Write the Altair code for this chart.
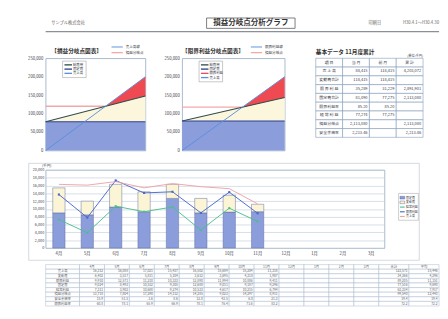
import altair as alt
import pandas as pd

FONT = "Noto Sans CJK JP"
TXT = "#3c3c46"
FRAME = "#8fa5bd"

# ---------------- header ----------------
company = "サンプル株式会社"
main_title = "損益分岐点分析グラフ"
print_label = "印刷日"
period = "H30.4.1～H30.4.30"

# ---------------- break-even charts ----------------
be_x = [0, 200000]
be_ticks = [0, 50000, 100000, 150000, 200000, 250000]

be1_title = "【損益分岐点図表】"
be1_sales = [0, 200000]
be1_cost = [78000, 148000]
be1_fixed = [78000, 78000]
be1_point = 120000
be1_inner = ["総費用", "固定費", "売上高"]
be1_outer = ["売上高線", "損益分岐点"]

be2_title = "【限界利益分岐点図表】"
be2_sales = [0, 200000]
be2_cost = [80000, 144000]
be2_fixed = [80000, 80000]
be2_point = 117500
be2_inner = ["総費用", "固定費", "限界利益", "売上高"]
be2_outer = ["限界利益線", "損益分岐点"]

# ---------------- basic data table ----------------
tbl_title = "基本データ 11月度累計"
tbl_unit = "(単位:千円)"
tbl_cols = ["項 目", "当 月", "前 月", "累 計"]
tbl_rows = ["売 上 高", "変動費合計", "限 界 利 益", "固定費合計",
            "限界利益率", "経 常 利 益", "損益分岐点", "安全余裕率"]
tbl_cur = ["88,415", "118,415", "35,289", "81,090", "85.20", "77,274", "2,113,080", "2,213.46"]
tbl_prev = ["118,415", "118,415", "31,229", "77,275", "85.20", "77,275", "", ""]
tbl_cum = ["4,203,072", "", "2,891,901", "2,113,080", "", "", "2,113,080", "2,213.46"]

# ---------------- monthly chart ----------------
months = ["4月", "5月", "6月", "7月", "8月", "9月", "10月", "11月", "12月", "1月", "2月", "3月"]
done_months = ["4月", "5月", "6月", "7月", "8月", "9月", "10月", "11月"]
fixed_cost = [9000, 8500, 10500, 9300, 12700, 9000, 9200, 9300]
var_cost = [6400, 3500, 5800, 5100, 3600, 3700, 4300, 1900]
sales_line = [16300, 16100, 17000, 15400, 16500, 15700, 15200, 11300]
margin_line = [13700, 7800, 17300, 14100, 14400, 9000, 14300, 8900]
profit_line = [7300, 3900, 10700, 9300, 10500, 4600, 10200, 6800]
bar_ticks = [0, 2000, 4000, 6000, 8000, 10000, 12000, 14000, 16000, 18000, 20000]
bar_unit = "(千円)"
series_names = ["固定費", "変動費", "経常利益", "限界利益", "売上高"]
series_colors = ["#8c9ddb", "#fbf5d6", "#4cbf8d", "#4a68c9", "#eea3a6"]

# ---------------- monthly table ----------------
bt_cols = ["", "4月", "5月", "6月", "7月", "8月", "9月", "10月", "11月",
           "12月", "1月", "2月", "3月", "合計", "平均"]
bt_rows = ["売上高", "変動費", "限界利益", "固定費", "経常利益", "損益分岐点", "安全余裕率", "限界利益率"]
bt_vals = [
    ["16,312", "16,088", "17,021", "15,437", "16,502", "15,689", "15,204", "11,318", "123,571", "15,446"],
    ["6,402", "3,517", "5,811", "5,104", "3,612", "3,695", "4,318", "1,907", "34,366", "4,296"],
    ["9,910", "12,571", "11,210", "10,333", "12,890", "11,994", "10,886", "9,411", "89,205", "11,151"],
    ["9,024", "8,493", "10,512", "9,305", "12,688", "9,011", "9,187", "9,296", "77,516", "9,690"],
    ["7,311", "3,902", "10,688", "9,274", "10,533", "4,617", "10,215", "6,794", "63,334", "7,917"],
    ["13,718", "7,804", "17,290", "14,112", "14,385", "9,023", "14,297", "8,911", "99,540", "12,443"],
    ["15.9", "51.5", "-1.6", "8.6", "12.8", "42.5", "6.0", "21.3", "19.4", "19.4"],
    ["60.8", "78.1", "65.9", "66.9", "78.1", "76.4", "71.6", "83.2", "72.2", "72.2"],
]

# =====================================================================
dummy = pd.DataFrame({"d": [0]})


def txt(x, y, s, size=4.5, align="left", weight="normal", color=TXT):
    return alt.Chart(dummy).mark_text(
        align=align, baseline="middle", fontSize=size, font=FONT,
        fontWeight=weight, color=color
    ).encode(x=alt.value(x), y=alt.value(y), text=alt.value(s))


def hrule(x0, x1, y, color, width=1.0):
    return alt.Chart(dummy).mark_rule(color=color, strokeWidth=width).encode(
        x=alt.value(x0), x2=alt.value(x1), y=alt.value(y))


def box(x0, x1, y0, y1, fill, stroke, width=0.5):
    return alt.Chart(dummy).mark_rect(fill=fill, stroke=stroke, strokeWidth=width).encode(
        x=alt.value(x0), x2=alt.value(x1), y=alt.value(y0), y2=alt.value(y1))


CW = 418  # content width (page x 22 .. 440)

# ---------------- header ----------------
header = alt.layer(
    txt(6, 6, company, 4.5, color="#666"),
    box(171, 265, 1, 12, "white", "#555", 0.8),
    txt(218, 6.7, main_title, 8, align="center", weight="bold", color="#333"),
    txt(343, 6, print_label, 4.5, color="#666"),
    txt(CW, 6, period, 4.5, align="right", color="#666"),
    hrule(0, CW, 15.5, "#8a8f98", 1.3),
).properties(width=CW, height=16)


# ---------------- break-even charts ----------------
def be_chart(title, sales, cost, fixed, point, inner, outer, width, tdx):
    H = 98
    df = pd.DataFrame({"x": be_x, "sales": sales, "cost": cost, "fixed": fixed})
    red = pd.DataFrame({"x": [point, be_x[1]], "top": [point, sales[1]], "bot": [point, cost[1]]})
    pink = pd.DataFrame({"x": [be_x[0], point], "y": [point, point]})
    xs = alt.Scale(domain=[be_x[0], be_x[1]], nice=False)
    ys = alt.Scale(domain=[0, 250000], nice=False)
    yaxis = alt.Axis(values=be_ticks, format=",.0f", labelFontSize=4.5, labelFont=FONT,
                     labelColor=TXT, ticks=False, domain=False, grid=False, labelOverlap=False,
                     labelPadding=3, minExtent=25, maxExtent=25, title=None)

    def X():
        return alt.X("x:Q", scale=xs, axis=None)

    def Y(f):
        return alt.Y(f"{f}:Q", scale=ys, axis=yaxis)

    base = alt.Chart(df)
    layers = [
        base.mark_area(color="#8c9ddb", opacity=1).encode(X(), Y("fixed"), y2=alt.datum(0)),
        base.mark_area(color="#fcf7dc", opacity=1).encode(X(), Y("cost"), y2="fixed:Q"),
        alt.Chart(red).mark_area(color="#ef4a52", opacity=1).encode(X(), Y("top"), y2="bot:Q"),
        alt.Chart(pink).mark_line(color="#f3a8a8", strokeWidth=1.4).encode(X(), Y("y")),
        base.mark_line(color="#2c3f8c", strokeWidth=1.1).encode(X(), Y("fixed")),
        base.mark_line(color="#2f4d4a", strokeWidth=1.1).encode(X(), Y("cost")),
        base.mark_line(color="#5a8fdc", strokeWidth=1.0).encode(X(), Y("sales")),
    ]
    n = len(inner)
    lx, ly = 18, 3
    layers.append(box(lx, lx + 25, ly, ly + 4 + n * 4.5, "white", "#8a8a8a"))
    inner_colors = ["#2f4d4a", "#2c3f8c", "#ef4a52", "#5a8fdc"]
    if n == 3:
        inner_colors = ["#2f4d4a", "#2c3f8c", "#5a8fdc"]
    for i, lab in enumerate(inner):
        yy = ly + 4 + i * 4.5
        layers.append(hrule(lx + 2, lx + 10, yy, inner_colors[i], 1.4))
        layers.append(txt(lx + 11, yy, lab, 3.6))
    layers.append(txt(tdx, -8, title, 6, weight="bold", color="#333"))
    ox = width - 36
    layers.append(hrule(ox, ox + 12, -12, "#5a8fdc", 1.0))
    layers.append(txt(ox + 15, -12, outer[0], 3.8))
    layers.append(hrule(ox, ox + 12, -6, "#f3a8a8", 1.4))
    layers.append(txt(ox + 15, -6, outer[1], 3.8))
    layers.append(hrule(0, 4, -14, "white", 0.1))
    layers.append(hrule(0, 4, H + 3, "white", 0.1))
    return alt.layer(*layers).properties(
        width=width, height=H,
        view=alt.ViewBackground(stroke=FRAME, strokeWidth=0.8),
    )


c1 = be_chart(be1_title, be1_sales, be1_cost, be1_fixed, be1_point, be1_inner, be1_outer, 106, 6)
c2 = be_chart(be2_title, be2_sales, be2_cost, be2_fixed, be2_point, be2_inner, be2_outer, 109, 0)

# ---------------- basic data table ----------------
cells = []
for c in tbl_cols:
    cells.append({"row": 0, "col": c, "text": c, "kind": "c"})
for i, r in enumerate(tbl_rows):
    cells.append({"row": i + 1, "col": tbl_cols[0], "text": r, "kind": "c"})
    for c, vals in zip(tbl_cols[1:], [tbl_cur, tbl_prev, tbl_cum]):
        cells.append({"row": i + 1, "col": c, "text": vals[i], "kind": "n"})
cells = pd.DataFrame(cells)
tx = alt.Scale(domain=tbl_cols, paddingInner=0, paddingOuter=0)
ty = alt.Scale(paddingInner=0, paddingOuter=0)
tb = alt.Chart(cells)
TW = 114
table = alt.layer(
    tb.mark_rect(fill="white", stroke="#7d98b5", strokeWidth=0.6).encode(
        x=alt.X("col:N", scale=tx, axis=None), y=alt.Y("row:O", scale=ty, axis=None)),
    tb.transform_filter("datum.kind == 'c'").mark_text(
        fontSize=4.2, font=FONT, color=TXT, align="center", baseline="middle").encode(
        x=alt.X("col:N", scale=tx, axis=None), y=alt.Y("row:O", scale=ty, axis=None), text="text:N"),
    tb.transform_filter("datum.kind == 'n'").mark_text(
        fontSize=4.2, font=FONT, color=TXT, align="right", baseline="middle", dx=-2).encode(
        x=alt.X("col:N", scale=tx, axis=None, bandPosition=1),
        y=alt.Y("row:O", scale=ty, axis=None), text="text:N"),
    txt(0, -7, tbl_title, 6, weight="bold", color="#333"),
    txt(TW, -2.2, tbl_unit, 3.4, align="right"),
    hrule(0, 4, -14, "white", 0.1),
).properties(width=TW, height=84)

row1 = alt.hconcat(alt.hconcat(c1, c2, spacing=10), table, spacing=29)

# ---------------- monthly bar + line chart ----------------
bars = []
for m, f, v in zip(done_months, fixed_cost, var_cost):
    bars.append({"month": m, "series": series_names[0], "value": f, "ord": 0})
    bars.append({"month": m, "series": series_names[1], "value": v, "ord": 1})
bars = pd.DataFrame(bars)
lines = []
for name, vals in zip(series_names[2:], [profit_line, margin_line, sales_line]):
    for m, v in zip(done_months, vals):
        lines.append({"month": m, "series": name, "value": v})
lines = pd.DataFrame(lines)

BW, BH = 360, 83
bx = alt.X("month:N", sort=months, scale=alt.Scale(domain=months, paddingInner=0.567, paddingOuter=0.25),
           axis=alt.Axis(title=None, labelAngle=0, labelFontSize=4.5, labelFont=FONT, labelColor=TXT,
                         ticks=False, domain=False, labelPadding=3))
byax = alt.Axis(values=bar_ticks, format=",.0f", labelFontSize=4, labelFont=FONT, labelColor=TXT,
                ticks=False, domain=False, gridColor="#b9c8d8", gridWidth=0.6, labelPadding=2,
                labelOverlap=False, minExtent=21, maxExtent=21, title=None)
bys = alt.Scale(domain=[0, 20000], nice=False)
col = alt.Color("series:N", scale=alt.Scale(domain=series_names, range=series_colors), legend=None)

# section frame (outline only)
frame = alt.Chart(dummy).mark_rect(fill="white", fillOpacity=0, stroke="#b4bcc6", strokeWidth=0.6).encode(
    x=alt.value(-18), x2=alt.value(BW + 37), y=alt.value(-7), y2=alt.value(BH + 13))

bar_layer = alt.Chart(bars).mark_bar(stroke="#5d6b9e", strokeWidth=0.5).encode(
    x=bx, y=alt.Y("value:Q", stack="zero", scale=bys, axis=byax), color=col,
    order=alt.Order("ord:Q"))
line_layer = alt.Chart(lines).mark_line(strokeWidth=1).encode(
    x=bx, y=alt.Y("value:Q", scale=bys, axis=byax), color=col, detail="series:N")
pt_layer = alt.Chart(lines).transform_filter(
    alt.FieldOneOfPredicate(field="series", oneOf=series_names[2:4])).mark_point(
    shape="square", size=5, filled=True, opacity=1).encode(
    x=bx, y=alt.Y("value:Q", scale=bys, axis=byax), color=col)

lg = [box(BW + 15, BW + 36, 25, 25 + 3.5 + 5 * 5, "white", "#999")]
for i, (name, colr) in enumerate(zip(series_names, series_colors)):
    yy = 29.5 + i * 5
    if i < 2:
        lg.append(box(BW + 16.5, BW + 21.5, yy - 1.4, yy + 1.4, colr, "#5d6b9e", 0.5))
    else:
        lg.append(hrule(BW + 16.5, BW + 21.5, yy, colr, 1.2))
    lg.append(txt(BW + 23, yy, name, 3.1))
lg.append(txt(-4, -4.4, bar_unit, 3.8))

barchart = alt.layer(frame, bar_layer, line_layer, pt_layer, *lg).properties(
    width=BW, height=BH, view=alt.ViewBackground(stroke=FRAME, strokeWidth=0.8))

# ---------------- monthly table ----------------
widths = [36] + [26.5] * 12 + [32, 32]
edges = [0]
for w in widths:
    edges.append(edges[-1] + w)
bt = []
for j, c in enumerate(bt_cols):
    bt.append({"row": 0, "x0": edges[j], "x1": edges[j + 1], "text": c, "kind": "c"})
for i, r in enumerate(bt_rows):
    bt.append({"row": i + 1, "x0": edges[0], "x1": edges[1], "text": r, "kind": "c"})
    vals = bt_vals[i][:8] + [""] * 4 + bt_vals[i][8:]
    for j, v in enumerate(vals):
        bt.append({"row": i + 1, "x0": edges[j + 1], "x1": edges[j + 2], "text": v, "kind": "n"})
bt = pd.DataFrame(bt)
bt["xm"] = (bt["x0"] + bt["x1"]) / 2
bxs = alt.Scale(domain=[0, edges[-1]], nice=False)
bys2 = alt.Scale(paddingInner=0, paddingOuter=0)
btb = alt.Chart(bt)
btable = alt.layer(
    btb.mark_rect(fill="white", stroke="#a4b6c9", strokeWidth=0.5).encode(
        x=alt.X("x0:Q", scale=bxs, axis=None), x2="x1:Q", y=alt.Y("row:O", scale=bys2, axis=None)),
    btb.transform_filter("datum.kind == 'c'").mark_text(
        fontSize=3.5, font=FONT, color="#666", align="center", baseline="middle").encode(
        x=alt.X("xm:Q", scale=bxs, axis=None), y=alt.Y("row:O", scale=bys2, axis=None), text="text:N"),
    btb.transform_filter("datum.kind == 'n'").mark_text(
        fontSize=3.5, font=FONT, color="#666", align="right", baseline="middle", dx=-1.5).encode(
        x=alt.X("x1:Q", scale=bxs, axis=None), y=alt.Y("row:O", scale=bys2, axis=None), text="text:N"),
).properties(width=CW, height=44)

lower = alt.vconcat(barchart, btable, spacing=2.6)
middle = alt.vconcat(row1, lower, spacing=8.6)
chart = alt.vconcat(header, middle, spacing=11.8).properties(
    padding={"left": 14, "top": 0, "right": 0, "bottom": 0}
).configure(background="white", font=FONT).configure_view(strokeWidth=0)

chart.save("out.html", embed_options={"renderer": "svg", "actions": False})
